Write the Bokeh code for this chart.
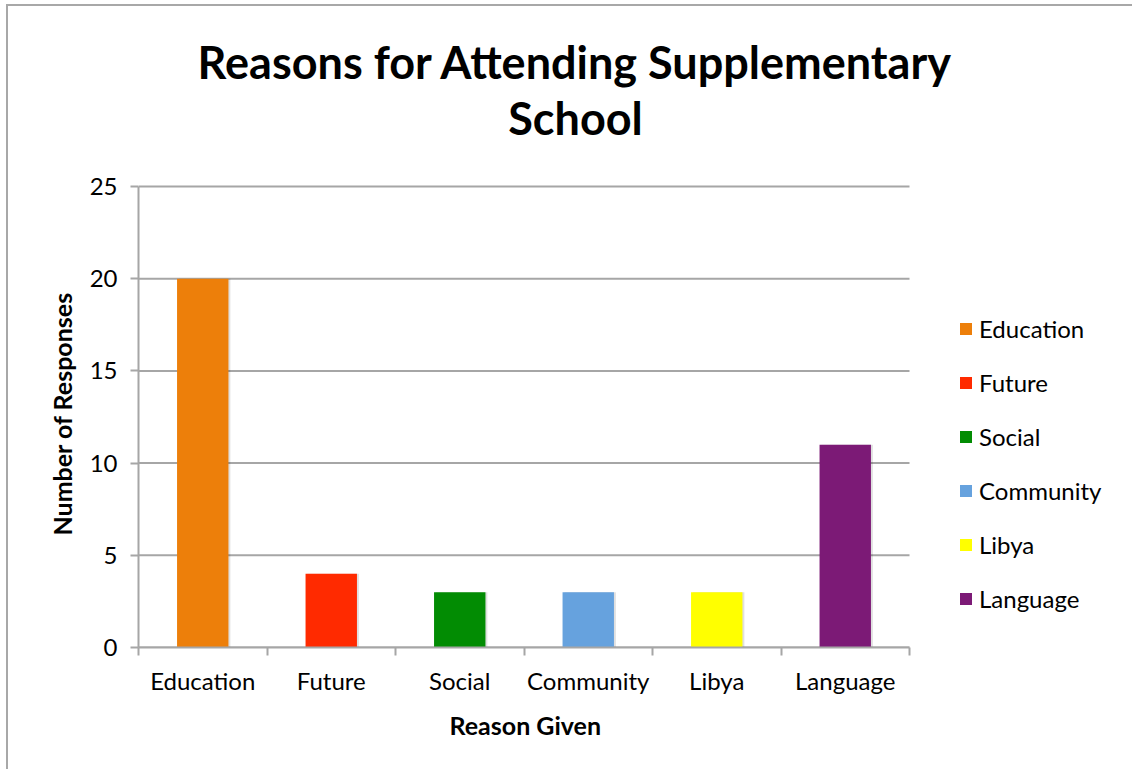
from bokeh.plotting import figure
from bokeh.models import (ColumnDataSource, FixedTicker, Legend, LegendItem,
                          Label, Range1d, Title)
from bokeh.embed import file_html
from bokeh.resources import INLINE

categories = ["Education", "Future", "Social", "Community", "Libya", "Language"]
responses = [20, 4, 3, 3, 3, 11]
colors = ["#ED7F0A", "#FF2A00", "#028C03", "#66A2DE", "#FFFF00", "#7C1A76"]
y_ticks = [0, 5, 10, 15, 20, 25]
title_lines = ["Reasons for Attending Supplementary", "School"]
x_title = "Reason Given"
y_title = "Number of Responses"

FONT = "Lato"
GRID = "#A6A6A6"

# layout (pixels)
FIG_W, FIG_H = 1126, 765
BORDER_L, BORDER_B, BORDER_T, BORDER_R = 130, 124, 2, 4
PLOT_W, PLOT_H = 771, 461          # pixel extent of the category axis and 0..25 axis
frame_w = FIG_W - BORDER_L - BORDER_R
frame_h = FIG_H - BORDER_B - BORDER_T
n = len(categories)
y_max = y_ticks[-1]

xpos = [i + 0.5 for i in range(n)]
src = ColumnDataSource(dict(x=xpos, top=responses, cat=categories, color=colors))

p = figure(width=FIG_W, height=FIG_H, output_backend="svg", toolbar_location=None,
           x_range=Range1d(0, n * frame_w / PLOT_W),
           y_range=Range1d(0, y_max * frame_h / PLOT_H),
           min_border_left=BORDER_L, min_border_right=BORDER_R,
           min_border_top=BORDER_T, min_border_bottom=BORDER_B,
           styles={"margin-left": "6px", "margin-top": "4px",
                   "border-left": "2px solid #A8A8A8",
                   "border-top": "2px solid #A8A8A8"})
p.outline_line_color = None
p.background_fill_color = "white"
p.border_fill_color = "white"
p.xgrid.visible = False
p.ygrid.visible = False

# horizontal gridlines over the category span
p.segment(x0=[0] * len(y_ticks), x1=[n] * len(y_ticks), y0=y_ticks, y1=y_ticks,
          line_color=GRID, line_width=2)

# subtle shadow
p.vbar(x=[v + 0.015 for v in xpos], top=responses, bottom=0, width=0.40,
       fill_color="#000000", fill_alpha=0.12, line_color=None)
r = p.vbar(x="x", top="top", width=0.40, source=src, fill_color="color",
           line_color=None)

# axes
p.xaxis.bounds = (0, n)
p.xaxis.ticker = FixedTicker(ticks=xpos, minor_ticks=list(range(n + 1)))
p.xaxis.major_label_overrides = {x: c for x, c in zip(xpos, categories)}
p.xaxis.major_tick_line_color = None
p.xaxis.minor_tick_in = 0
p.xaxis.minor_tick_out = 8
p.xaxis.minor_tick_line_color = GRID
p.xaxis.minor_tick_line_width = 2
p.xaxis.axis_line_color = GRID
p.xaxis.axis_line_width = 2

p.yaxis.bounds = (0, y_max)
p.yaxis.ticker = FixedTicker(ticks=y_ticks)
p.yaxis.minor_tick_line_color = None
p.yaxis.major_tick_in = 0
p.yaxis.major_tick_out = 8
p.yaxis.major_tick_line_color = GRID
p.yaxis.major_tick_line_width = 2
p.yaxis.axis_line_color = GRID
p.yaxis.axis_line_width = 2

for ax in (p.xaxis, p.yaxis):
    ax.major_label_text_font = FONT
    ax.major_label_text_font_size = "24px"
    ax.major_label_text_color = "black"
p.xaxis.major_label_standoff = 10
p.yaxis.major_label_standoff = 13

# axis titles (placed relative to the category / value span)
p.add_layout(Title(text=x_title, align="left", offset=311, standoff=20,
                   text_font=FONT, text_font_style="bold",
                   text_font_size="25px", text_color="black"), "below")
p.add_layout(Title(text=y_title, align="left", offset=112, standoff=20,
                   text_font=FONT, text_font_style="bold",
                   text_font_size="25px", text_color="black"), "left")

# legend
items = [LegendItem(label=c, renderers=[r], index=i) for i, c in enumerate(categories)]
legend = Legend(items=items, location=(820, 34), orientation="vertical",
                glyph_width=15, glyph_height=15, label_text_font=FONT,
                label_text_font_size="24px", label_text_color="black",
                spacing=25, padding=0, margin=0, border_line_color=None,
                background_fill_alpha=0, label_standoff=6)
p.add_layout(legend, "center")

# title
for t, yy in zip(title_lines, (586, 530)):
    p.add_layout(Label(x=437, y=yy, x_units="screen", y_units="screen",
                       text=t, text_align="center", text_baseline="alphabetic",
                       text_font=FONT, text_font_style="bold",
                       text_font_size="45px", text_color="black"))

open("out.html", "w").write(file_html(p, INLINE))
